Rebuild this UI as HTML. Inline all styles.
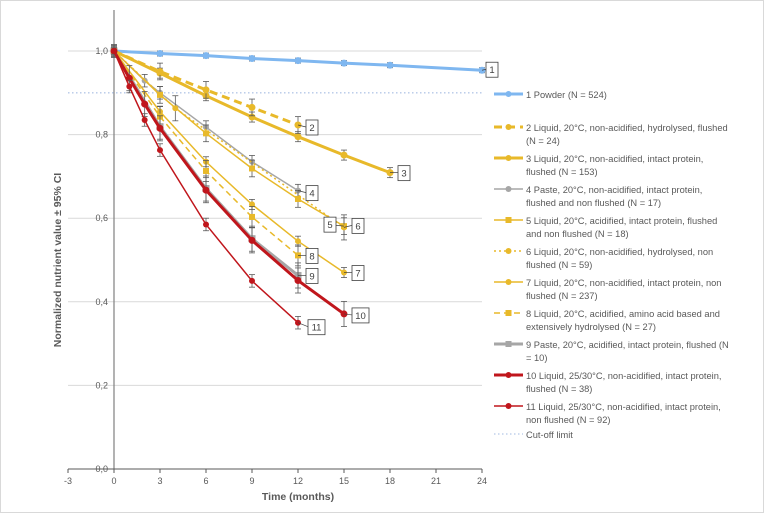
<!DOCTYPE html>
<html><head><meta charset="utf-8"><style>
body{margin:0;background:#fff;font-family:"Liberation Sans",sans-serif}
#wrap{position:relative;width:765px;height:523px}
</style></head><body>
<div id="wrap">
<svg id="svg" width="765" height="523" style="position:absolute;left:0;top:0"></svg>
</div>
<script>
const seriesNames=["1 Powder (N = 524)","2 Liquid, 20°C, non-acidified, hydrolysed, flushed|(N = 24)","3 Liquid, 20°C, non-acidified, intact protein,|flushed (N = 153)","4 Paste, 20°C, non-acidified, intact protein,|flushed and non flushed (N = 17)","5 Liquid, 20°C, acidified, intact protein, flushed|and non flushed (N = 18)","6 Liquid, 20°C, non-acidified, hydrolysed, non|flushed (N = 59)","7 Liquid, 20°C, non-acidified, intact protein, non|flushed (N = 237)","8 Liquid, 20°C, acidified, amino acid based and|extensively hydrolysed (N = 27)","9 Paste, 20°C, acidified, intact protein, flushed (N|= 10)","10 Liquid, 25/30°C, non-acidified, intact protein,|flushed (N = 38)","11 Liquid, 25/30°C, non-acidified, intact protein,|non flushed (N = 92)"];
const months1=[0,3,6,9,12,15,18,24]; const vals1=[1,0.994,0.989,0.982,0.977,0.971,0.966,0.954];
const months2=[0,3,6,9,12]; const vals2=[1,0.951,0.907,0.865,0.823];
const months3=[0,3,6,9,12,15,18]; const vals3=[1,0.947,0.893,0.842,0.795,0.751,0.709];
const months4=[0,2,3,6,9,12]; const vals4=[1,0.929,0.90,0.818,0.735,0.666];
const months5=[0,3,6,9,12,15]; const vals5=[1,0.895,0.803,0.719,0.646,0.581];
const months6=[0,4,15]; const vals6=[1,0.863,0.578];
const months7=[0,3,6,9,12,15]; const vals7=[1,0.855,0.735,0.633,0.545,0.47];
const months8=[0,3,6,9,12]; const vals8=[1,0.843,0.713,0.603,0.511];
const months9=[0,3,6,9,12]; const vals9=[1,0.819,0.671,0.551,0.463];
const months10=[0,1,2,3,6,9,12,15]; const vals10=[1,0.935,0.873,0.815,0.667,0.547,0.451,0.371];
const months11=[0,1,2,3,6,9,12]; const vals11=[1,0.915,0.835,0.763,0.585,0.45,0.35];
const errs=[0.006,0.02,0.012,0.015,0.02,0.03,0.012,0.025,0.03,0.03,0.015];
const xTicks=[-3,0,3,6,9,12,15,18,21,24];
const yTicks=[0,0.2,0.4,0.6,0.8,1.0];
const cutoff=0.9;
const X=m=>114+(m)*(368/24), Y=v=>469-v*418;
const S=document.getElementById('svg'),NS="http://www.w3.org/2000/svg";
function el(t,a,p){const e=document.createElementNS(NS,t);for(const k in a)e.setAttribute(k,a[k]);(p||S).appendChild(e);return e;}
let e=el('rect',{x:0.5,y:0.5,width:763,height:512,fill:'none',stroke:'#d9d9d9'});

yTicks.forEach(v=>{
 if(v>0){let g=el('line',{x1:X(-3),x2:X(24),y1:Y(v),y2:Y(v),stroke:'#d9d9d9'});}
 let t=el('text',{x:108,y:Y(v)+3,'text-anchor':'end','font-size':9,fill:'#595959'});t.textContent=v.toFixed(1).replace('.',',');
 
});
e=el('line',{x1:X(0),x2:X(0),y1:10,y2:469,stroke:'#808080','stroke-width':1.2});
e=el('line',{x1:X(-3),x2:X(24),y1:469,y2:469,stroke:'#595959','stroke-width':1});
xTicks.forEach(m=>{el('line',{x1:X(m),x2:X(m),y1:469,y2:473,stroke:'#595959'});
 let t=el('text',{x:X(m),y:484,'text-anchor':'middle','font-size':9,fill:'#595959'});t.textContent=m;
 });
e=el('text',{x:298,y:500,'text-anchor':'middle','font-size':10.5,'font-weight':'bold',fill:'#595959'});e.textContent='Time (months)';

e=el('text',{x:0,y:0,'text-anchor':'middle','font-size':10.5,'font-weight':'bold',fill:'#595959',transform:'translate(61,260) rotate(-90)'});e.textContent='Normalized nutrient value ± 95% CI';

e=el('line',{x1:X(-3),x2:X(24),y1:Y(cutoff),y2:Y(cutoff),stroke:'#b4c7e7','stroke-width':1.3,'stroke-dasharray':'1.5 2.5'});

const Y1='#e8b92a',R='#c0161c',G='#a6a6a6',B='#7fb7f0';
const styles=[[B,3,'','c'],[Y1,3,'8 5','c'],[Y1,3,'','c'],[G,1.5,'','c'],[Y1,1.5,'','s'],[Y1,1.5,'2 3','c'],[Y1,1.5,'','c'],[Y1,1.5,'6 4','s'],[G,3,'','s'],[R,3,'','c'],[R,1.5,'','c']];
const allM=[months1,months2,months3,months4,months5,months6,months7,months8,months9,months10,months11];
const allV=[vals1,vals2,vals3,vals4,vals5,vals6,vals7,vals8,vals9,vals10,vals11];
const order=[0,8,3,2,1,4,5,6,7,9,10];
order.forEach(i=>{
 const [c,w,d,mk]=styles[i],M=allM[i],V=allV[i];
 const g=el('g',{});
 M.forEach((m,j)=>{const er=errs[i]*(j?1:0.5);
  el('line',{x1:X(m),x2:X(m),y1:Y(V[j]+er),y2:Y(V[j]-er),stroke:'#595959','stroke-width':0.8},g);
  el('line',{x1:X(m)-3,x2:X(m)+3,y1:Y(V[j]+er),y2:Y(V[j]+er),stroke:'#595959','stroke-width':0.8},g);
  el('line',{x1:X(m)-3,x2:X(m)+3,y1:Y(V[j]-er),y2:Y(V[j]-er),stroke:'#595959','stroke-width':0.8},g);});
 const p=el('polyline',{points:M.map((m,j)=>X(m)+','+Y(V[j])).join(' '),fill:'none',stroke:c,'stroke-width':w,'stroke-dasharray':d},g);
 M.forEach((m,j)=>{let q;const r=w>2?3.5:3;
  if(mk=='s')q=el('rect',{x:X(m)-r,y:Y(V[j])-r,width:2*r,height:2*r,fill:c},g);
  else q=el('circle',{cx:X(m),cy:Y(V[j]),r:r,fill:c},g);
  });
});
// value labels
const lblIdx=[0,1,2,3,4,5,6,7,8,9,10];
const lblOff=[[4,-8],[8,-5],[8,-7],[8,-5],[-20,-9],[8,-9],[8,-7],[8,-7],[8,-7],[8,-6],[10,-3]];
lblIdx.forEach(i=>{const M=allM[i],V=allV[i],m=M[M.length-1],v=V[V.length-1];
 const x=X(m)+lblOff[i][0],y=Y(v)+lblOff[i][1];const t=String(i+1),wd=t.length>1?17:12;
 const g=el('g',{});
 el('line',{x1:X(m),y1:Y(v),x2:x,y2:y+7,stroke:'#404040','stroke-width':0.7},g);
 el('rect',{x:x,y:y,width:wd,height:15,fill:'#fff',stroke:'#404040','stroke-width':0.8},g);
 const tx=el('text',{x:x+wd/2,y:y+11,'text-anchor':'middle','font-size':9.5,fill:'#404040'},g);tx.textContent=t;});
// legend
const legY=[94,127,158,189,220,251,282,313,344,375,406];
seriesNames.forEach((n,i)=>{const [c,w,d,mk]=styles[i];const y=legY[i];
 const g=el('g',{});
 el('line',{x1:494,x2:523,y1:y,y2:y,stroke:c,'stroke-width':w,'stroke-dasharray':d},g);
 if(mk=='s')el('rect',{x:505.5,y:y-3,width:6,height:6,fill:c},g);else el('circle',{cx:508.5,cy:y,r:3,fill:c},g);
 n.split('|').forEach((s,k)=>{const t=el('text',{x:526,y:y+4+k*13,'font-size':9.3,fill:'#595959'},g);t.textContent=s;});});
const g=el('g',{});
el('line',{x1:494,x2:523,y1:434,y2:434,stroke:'#b4c7e7','stroke-width':1.3,'stroke-dasharray':'1.5 2.5'},g);
const t=el('text',{x:526,y:438,'font-size':9.3,fill:'#595959'},g);t.textContent='Cut-off limit';
</script>
</body></html>
